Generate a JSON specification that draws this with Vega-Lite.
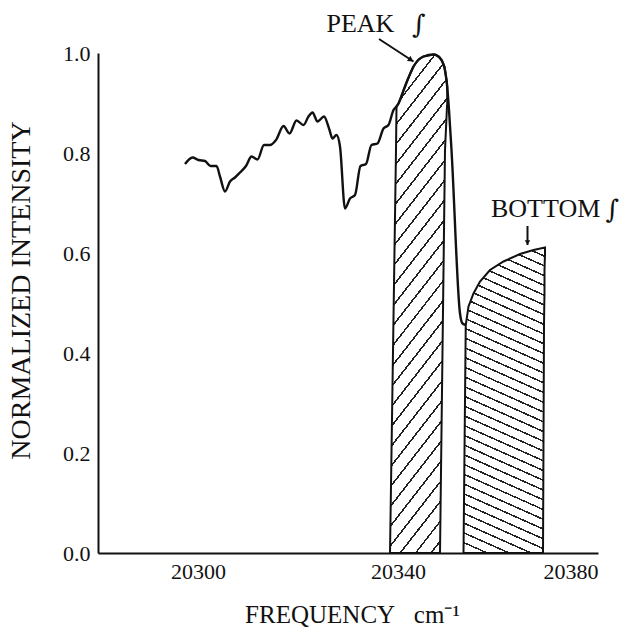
{
"$schema": "https://vega.github.io/schema/vega-lite/v6.json",
"width": 500, "height": 500,
"autosize": {"type": "none"},
"padding": {"left": 98, "top": 53, "right": 29, "bottom": 84},
"background": "white",
"config": {
 "view": {"stroke": null},
 "font": "Liberation Serif",
 "axisX": {"grid": false, "ticks": false, "domainColor": "#111", "domainWidth": 2, "labelFont": "Liberation Serif", "labelFontSize": 22, "labelColor": "#111", "labelPadding": 8, "titleFont": "Liberation Serif", "titleFontSize": 25, "titleFontWeight": "normal", "titleColor": "#111", "titleX": 254, "titleY": 61, "titleBaseline": "middle", "titleAlign": "center"},
 "axisY": {"grid": false, "ticks": false, "domainColor": "#111", "domainWidth": 2, "labelFont": "Liberation Serif", "labelFontSize": 22, "labelColor": "#111", "labelPadding": 8, "titleFont": "Liberation Serif", "titleFontSize": 28, "titleFontWeight": "normal", "titleColor": "#111", "titleX": -77, "titleY": 237, "titleAngle": -90, "titleBaseline": "middle", "titleAlign": "center"}
},
"datasets": {
 "curve": [
  {"x":20297.4,"y":0.778},{"x":20298.9,"y":0.791},{"x":20300.1,"y":0.786},{"x":20301.4,"y":0.784},{"x":20302.5,"y":0.774},{"x":20303.7,"y":0.774},{"x":20304.4,"y":0.753},{"x":20305.4,"y":0.723},{"x":20306.4,"y":0.743},{"x":20307.4,"y":0.751},{"x":20308.4,"y":0.761},{"x":20309.6,"y":0.774},{"x":20310.7,"y":0.793},{"x":20311.9,"y":0.787},{"x":20313.2,"y":0.816},{"x":20314.4,"y":0.816},{"x":20315.6,"y":0.826},{"x":20317.1,"y":0.854},{"x":20318.3,"y":0.839},{"x":20319.7,"y":0.865},{"x":20321.1,"y":0.856},{"x":20322.1,"y":0.873},{"x":20322.9,"y":0.881},{"x":20323.9,"y":0.863},{"x":20325.2,"y":0.873},{"x":20326.3,"y":0.846},{"x":20326.9,"y":0.829},{"x":20327.7,"y":0.836},{"x":20328.4,"y":0.813},{"x":20329.4,"y":0.689},{"x":20330.4,"y":0.709},{"x":20331.4,"y":0.716},{"x":20332.5,"y":0.774},{"x":20333.6,"y":0.778},{"x":20334.7,"y":0.816},{"x":20335.9,"y":0.819},{"x":20337.1,"y":0.849},{"x":20338.1,"y":0.856},{"x":20339.1,"y":0.886},{"x":20339.7,"y":0.893},{"x":20340.1,"y":0.899},{"x":20341.4,"y":0.933},{"x":20343.1,"y":0.973},{"x":20345.1,"y":0.993},{"x":20347.1,"y":0.997},{"x":20348.7,"y":0.986},{"x":20349.7,"y":0.946},{"x":20350.2,"y":0.886},{"x":20350.7,"y":0.806},{"x":20352.4,"y":0.479},{"x":20352.9,"y":0.459},{"x":20353.6,"y":0.456}
 ],
 "peak": [
  {"y":0,"xl":20338.4,"xr":20348.4},{"y":0.806,"xl":20339.6,"xr":20349.4},{"y":0.893,"xl":20339.7,"xr":20349.8},{"y":0.899,"xl":20340.1,"xr":20349.85},{"y":0.933,"xl":20341.4,"xr":20349.85},{"y":0.946,"xl":20341.9,"xr":20349.7},{"y":0.973,"xl":20343.1,"xr":20349.3},{"y":0.986,"xl":20344.0,"xr":20348.7},{"y":0.993,"xl":20345.1,"xr":20348.2},{"y":0.997,"xl":20347.1,"xr":20347.3}
 ],
 "bottom": [
  {"y":0,"xl":20353.1,"xr":20369.0},{"y":0.456,"xl":20353.55,"xr":20369.2},{"y":0.493,"xl":20354.1,"xr":20369.25},{"y":0.519,"xl":20355.1,"xr":20369.3},{"y":0.543,"xl":20356.4,"xr":20369.3},{"y":0.566,"xl":20358.4,"xr":20369.3},{"y":0.583,"xl":20361.1,"xr":20369.35},{"y":0.598,"xl":20364.4,"xr":20369.4},{"y":0.606,"xl":20367.1,"xr":20369.4},{"y":0.611,"xl":20369.4,"xr":20369.4}
 ],
 "labels": [
  {"label":"PEAK","x":20325.7,"y":1.058},{"label":"BOTTOM","x":20358.6,"y":0.688}
 ],
 "integrals": [
  {"label":"∫","x":20342.8,"y":1.056},{"label":"∫","x":20381.5,"y":0.686}
 ],
 "arrows": [
  {"x":20336.2,"y":1.028,"x2":20343.1,"y2":0.983},{"x":20365.9,"y":0.654,"x2":20365.9,"y2":0.616}
 ],
 "head1": [{"x":20342.6,"y":0.986}],
 "head2": [{"x":20365.9,"y":0.621}]
},
"layer": [
 {"data": {"name": "peak"},
  "mark": {"type": "area", "orient": "horizontal", "stroke": "#111", "strokeWidth": 2,
   "fill": {"gradient": "linear", "x1": 0, "y1": 0, "x2": 0.1657, "y2": 1.1231, "stops": [
    {"offset":0,"color":"#fff"},{"offset":0.03,"color":"#fff"},{"offset":0.03,"color":"#222"},{"offset":0.0345,"color":"#222"},
    {"offset":0.0345,"color":"#fff"},{"offset":0.0645,"color":"#fff"},{"offset":0.0645,"color":"#222"},{"offset":0.069,"color":"#222"},
    {"offset":0.069,"color":"#fff"},{"offset":0.099,"color":"#fff"},{"offset":0.099,"color":"#222"},{"offset":0.1034,"color":"#222"},
    {"offset":0.1034,"color":"#fff"},{"offset":0.1334,"color":"#fff"},{"offset":0.1334,"color":"#222"},{"offset":0.1379,"color":"#222"},
    {"offset":0.1379,"color":"#fff"},{"offset":0.1679,"color":"#fff"},{"offset":0.1679,"color":"#222"},{"offset":0.1724,"color":"#222"},
    {"offset":0.1724,"color":"#fff"},{"offset":0.2024,"color":"#fff"},{"offset":0.2024,"color":"#222"},{"offset":0.2069,"color":"#222"},
    {"offset":0.2069,"color":"#fff"},{"offset":0.2369,"color":"#fff"},{"offset":0.2369,"color":"#222"},{"offset":0.2414,"color":"#222"},
    {"offset":0.2414,"color":"#fff"},{"offset":0.2714,"color":"#fff"},{"offset":0.2714,"color":"#222"},{"offset":0.2759,"color":"#222"},
    {"offset":0.2759,"color":"#fff"},{"offset":0.3059,"color":"#fff"},{"offset":0.3059,"color":"#222"},{"offset":0.3103,"color":"#222"},
    {"offset":0.3103,"color":"#fff"},{"offset":0.3403,"color":"#fff"},{"offset":0.3403,"color":"#222"},{"offset":0.3448,"color":"#222"},
    {"offset":0.3448,"color":"#fff"},{"offset":0.3748,"color":"#fff"},{"offset":0.3748,"color":"#222"},{"offset":0.3793,"color":"#222"},
    {"offset":0.3793,"color":"#fff"},{"offset":0.4093,"color":"#fff"},{"offset":0.4093,"color":"#222"},{"offset":0.4138,"color":"#222"},
    {"offset":0.4138,"color":"#fff"},{"offset":0.4438,"color":"#fff"},{"offset":0.4438,"color":"#222"},{"offset":0.4483,"color":"#222"},
    {"offset":0.4483,"color":"#fff"},{"offset":0.4783,"color":"#fff"},{"offset":0.4783,"color":"#222"},{"offset":0.4828,"color":"#222"},
    {"offset":0.4828,"color":"#fff"},{"offset":0.5128,"color":"#fff"},{"offset":0.5128,"color":"#222"},{"offset":0.5172,"color":"#222"},
    {"offset":0.5172,"color":"#fff"},{"offset":0.5472,"color":"#fff"},{"offset":0.5472,"color":"#222"},{"offset":0.5517,"color":"#222"},
    {"offset":0.5517,"color":"#fff"},{"offset":0.5817,"color":"#fff"},{"offset":0.5817,"color":"#222"},{"offset":0.5862,"color":"#222"},
    {"offset":0.5862,"color":"#fff"},{"offset":0.6162,"color":"#fff"},{"offset":0.6162,"color":"#222"},{"offset":0.6207,"color":"#222"},
    {"offset":0.6207,"color":"#fff"},{"offset":0.6507,"color":"#fff"},{"offset":0.6507,"color":"#222"},{"offset":0.6552,"color":"#222"},
    {"offset":0.6552,"color":"#fff"},{"offset":0.6852,"color":"#fff"},{"offset":0.6852,"color":"#222"},{"offset":0.6897,"color":"#222"},
    {"offset":0.6897,"color":"#fff"},{"offset":0.7197,"color":"#fff"},{"offset":0.7197,"color":"#222"},{"offset":0.7241,"color":"#222"},
    {"offset":0.7241,"color":"#fff"},{"offset":0.7541,"color":"#fff"},{"offset":0.7541,"color":"#222"},{"offset":0.7586,"color":"#222"},
    {"offset":0.7586,"color":"#fff"},{"offset":0.7886,"color":"#fff"},{"offset":0.7886,"color":"#222"},{"offset":0.7931,"color":"#222"},
    {"offset":0.7931,"color":"#fff"},{"offset":0.8231,"color":"#fff"},{"offset":0.8231,"color":"#222"},{"offset":0.8276,"color":"#222"},
    {"offset":0.8276,"color":"#fff"},{"offset":0.8576,"color":"#fff"},{"offset":0.8576,"color":"#222"},{"offset":0.8621,"color":"#222"},
    {"offset":0.8621,"color":"#fff"},{"offset":0.8921,"color":"#fff"},{"offset":0.8921,"color":"#222"},{"offset":0.8966,"color":"#222"},
    {"offset":0.8966,"color":"#fff"},{"offset":0.9266,"color":"#fff"},{"offset":0.9266,"color":"#222"},{"offset":0.931,"color":"#222"},
    {"offset":0.931,"color":"#fff"},{"offset":0.961,"color":"#fff"},{"offset":0.961,"color":"#222"},{"offset":0.9655,"color":"#222"},
    {"offset":0.9655,"color":"#fff"},{"offset":0.9955,"color":"#fff"},{"offset":0.9955,"color":"#222"},{"offset":1,"color":"#222"}
   ]}},
  "encoding": {
   "y": {"field": "y", "type": "quantitative", "scale": {"domain": [0, 1], "nice": false, "zero": false}, "title": "NORMALIZED INTENSITY", "axis": {"values": [0, 0.2, 0.4, 0.6, 0.8, 1], "format": ".1f"}},
   "x": {"field": "xl", "type": "quantitative", "scale": {"domain": [20280, 20380], "nice": false, "zero": false}, "title": "FREQUENCY\u00a0\u00a0\u00a0cm⁻¹", "axis": {"values": [20300, 20340, 20380], "format": "d"}},
   "x2": {"field": "xr"}
  }
 },
 {"data": {"name": "bottom"},
  "mark": {"type": "area", "orient": "horizontal", "stroke": "#111", "strokeWidth": 2,
   "fill": {"gradient": "linear", "x1": 1, "y1": 0, "x2": 0.869, "y2": 1.1033, "stops": [
    {"offset":0,"color":"#fff"},{"offset":0.0237,"color":"#fff"},{"offset":0.0237,"color":"#222"},{"offset":0.0286,"color":"#222"},
    {"offset":0.0286,"color":"#fff"},{"offset":0.0523,"color":"#fff"},{"offset":0.0523,"color":"#222"},{"offset":0.0571,"color":"#222"},
    {"offset":0.0571,"color":"#fff"},{"offset":0.0808,"color":"#fff"},{"offset":0.0808,"color":"#222"},{"offset":0.0857,"color":"#222"},
    {"offset":0.0857,"color":"#fff"},{"offset":0.1094,"color":"#fff"},{"offset":0.1094,"color":"#222"},{"offset":0.1143,"color":"#222"},
    {"offset":0.1143,"color":"#fff"},{"offset":0.138,"color":"#fff"},{"offset":0.138,"color":"#222"},{"offset":0.1429,"color":"#222"},
    {"offset":0.1429,"color":"#fff"},{"offset":0.1666,"color":"#fff"},{"offset":0.1666,"color":"#222"},{"offset":0.1714,"color":"#222"},
    {"offset":0.1714,"color":"#fff"},{"offset":0.1951,"color":"#fff"},{"offset":0.1951,"color":"#222"},{"offset":0.2,"color":"#222"},
    {"offset":0.2,"color":"#fff"},{"offset":0.2237,"color":"#fff"},{"offset":0.2237,"color":"#222"},{"offset":0.2286,"color":"#222"},
    {"offset":0.2286,"color":"#fff"},{"offset":0.2523,"color":"#fff"},{"offset":0.2523,"color":"#222"},{"offset":0.2571,"color":"#222"},
    {"offset":0.2571,"color":"#fff"},{"offset":0.2808,"color":"#fff"},{"offset":0.2808,"color":"#222"},{"offset":0.2857,"color":"#222"},
    {"offset":0.2857,"color":"#fff"},{"offset":0.3094,"color":"#fff"},{"offset":0.3094,"color":"#222"},{"offset":0.3143,"color":"#222"},
    {"offset":0.3143,"color":"#fff"},{"offset":0.338,"color":"#fff"},{"offset":0.338,"color":"#222"},{"offset":0.3429,"color":"#222"},
    {"offset":0.3429,"color":"#fff"},{"offset":0.3666,"color":"#fff"},{"offset":0.3666,"color":"#222"},{"offset":0.3714,"color":"#222"},
    {"offset":0.3714,"color":"#fff"},{"offset":0.3951,"color":"#fff"},{"offset":0.3951,"color":"#222"},{"offset":0.4,"color":"#222"},
    {"offset":0.4,"color":"#fff"},{"offset":0.4237,"color":"#fff"},{"offset":0.4237,"color":"#222"},{"offset":0.4286,"color":"#222"},
    {"offset":0.4286,"color":"#fff"},{"offset":0.4523,"color":"#fff"},{"offset":0.4523,"color":"#222"},{"offset":0.4571,"color":"#222"},
    {"offset":0.4571,"color":"#fff"},{"offset":0.4808,"color":"#fff"},{"offset":0.4808,"color":"#222"},{"offset":0.4857,"color":"#222"},
    {"offset":0.4857,"color":"#fff"},{"offset":0.5094,"color":"#fff"},{"offset":0.5094,"color":"#222"},{"offset":0.5143,"color":"#222"},
    {"offset":0.5143,"color":"#fff"},{"offset":0.538,"color":"#fff"},{"offset":0.538,"color":"#222"},{"offset":0.5429,"color":"#222"},
    {"offset":0.5429,"color":"#fff"},{"offset":0.5666,"color":"#fff"},{"offset":0.5666,"color":"#222"},{"offset":0.5714,"color":"#222"},
    {"offset":0.5714,"color":"#fff"},{"offset":0.5951,"color":"#fff"},{"offset":0.5951,"color":"#222"},{"offset":0.6,"color":"#222"},
    {"offset":0.6,"color":"#fff"},{"offset":0.6237,"color":"#fff"},{"offset":0.6237,"color":"#222"},{"offset":0.6286,"color":"#222"},
    {"offset":0.6286,"color":"#fff"},{"offset":0.6523,"color":"#fff"},{"offset":0.6523,"color":"#222"},{"offset":0.6571,"color":"#222"},
    {"offset":0.6571,"color":"#fff"},{"offset":0.6808,"color":"#fff"},{"offset":0.6808,"color":"#222"},{"offset":0.6857,"color":"#222"},
    {"offset":0.6857,"color":"#fff"},{"offset":0.7094,"color":"#fff"},{"offset":0.7094,"color":"#222"},{"offset":0.7143,"color":"#222"},
    {"offset":0.7143,"color":"#fff"},{"offset":0.738,"color":"#fff"},{"offset":0.738,"color":"#222"},{"offset":0.7429,"color":"#222"},
    {"offset":0.7429,"color":"#fff"},{"offset":0.7666,"color":"#fff"},{"offset":0.7666,"color":"#222"},{"offset":0.7714,"color":"#222"},
    {"offset":0.7714,"color":"#fff"},{"offset":0.7951,"color":"#fff"},{"offset":0.7951,"color":"#222"},{"offset":0.8,"color":"#222"},
    {"offset":0.8,"color":"#fff"},{"offset":0.8237,"color":"#fff"},{"offset":0.8237,"color":"#222"},{"offset":0.8286,"color":"#222"},
    {"offset":0.8286,"color":"#fff"},{"offset":0.8523,"color":"#fff"},{"offset":0.8523,"color":"#222"},{"offset":0.8571,"color":"#222"},
    {"offset":0.8571,"color":"#fff"},{"offset":0.8808,"color":"#fff"},{"offset":0.8808,"color":"#222"},{"offset":0.8857,"color":"#222"},
    {"offset":0.8857,"color":"#fff"},{"offset":0.9094,"color":"#fff"},{"offset":0.9094,"color":"#222"},{"offset":0.9143,"color":"#222"},
    {"offset":0.9143,"color":"#fff"},{"offset":0.938,"color":"#fff"},{"offset":0.938,"color":"#222"},{"offset":0.9429,"color":"#222"},
    {"offset":0.9429,"color":"#fff"},{"offset":0.9666,"color":"#fff"},{"offset":0.9666,"color":"#222"},{"offset":0.9714,"color":"#222"},
    {"offset":0.9714,"color":"#fff"},{"offset":0.9951,"color":"#fff"},{"offset":0.9951,"color":"#222"},{"offset":1,"color":"#222"}
   ]}},
  "encoding": {
   "y": {"field": "y", "type": "quantitative", "title": "NORMALIZED INTENSITY"},
   "x": {"field": "xl", "type": "quantitative", "title": "FREQUENCY\u00a0\u00a0\u00a0cm⁻¹"},
   "x2": {"field": "xr"}
  }
 },
 {"data": {"name": "curve"},
  "mark": {"type": "line", "color": "#111", "strokeWidth": 2.4, "interpolate": "monotone"},
  "encoding": {
   "x": {"field": "x", "type": "quantitative", "title": "FREQUENCY\u00a0\u00a0\u00a0cm⁻¹"},
   "y": {"field": "y", "type": "quantitative", "title": "NORMALIZED INTENSITY"}
  }
 },
 {"data": {"name": "arrows"},
  "mark": {"type": "rule", "color": "#111", "strokeWidth": 2},
  "encoding": {
   "x": {"field": "x", "type": "quantitative", "title": "FREQUENCY\u00a0\u00a0\u00a0cm⁻¹"},
   "y": {"field": "y", "type": "quantitative", "title": "NORMALIZED INTENSITY"},
   "x2": {"field": "x2"},
   "y2": {"field": "y2"}
  }
 },
 {"data": {"name": "head1"},
  "mark": {"type": "point", "shape": "triangle-right", "angle": 33.5, "filled": true, "color": "#111", "size": 40, "opacity": 1},
  "encoding": {
   "x": {"field": "x", "type": "quantitative", "title": "FREQUENCY\u00a0\u00a0\u00a0cm⁻¹"},
   "y": {"field": "y", "type": "quantitative", "title": "NORMALIZED INTENSITY"}
  }
 },
 {"data": {"name": "head2"},
  "mark": {"type": "point", "shape": "triangle-down", "filled": true, "color": "#111", "size": 30, "opacity": 1},
  "encoding": {
   "x": {"field": "x", "type": "quantitative", "title": "FREQUENCY\u00a0\u00a0\u00a0cm⁻¹"},
   "y": {"field": "y", "type": "quantitative", "title": "NORMALIZED INTENSITY"}
  }
 },
 {"data": {"name": "labels"},
  "mark": {"type": "text", "align": "left", "baseline": "middle", "font": "Liberation Serif", "fontSize": 26, "color": "#111"},
  "encoding": {
   "x": {"field": "x", "type": "quantitative", "title": "FREQUENCY\u00a0\u00a0\u00a0cm⁻¹"},
   "y": {"field": "y", "type": "quantitative", "title": "NORMALIZED INTENSITY"},
   "text": {"field": "label"}
  }
 },
 {"data": {"name": "integrals"},
  "mark": {"type": "text", "align": "left", "baseline": "middle", "font": "DejaVu Serif", "fontSize": 26, "color": "#111"},
  "encoding": {
   "x": {"field": "x", "type": "quantitative", "title": "FREQUENCY\u00a0\u00a0\u00a0cm⁻¹"},
   "y": {"field": "y", "type": "quantitative", "title": "NORMALIZED INTENSITY"},
   "text": {"field": "label"}
  }
 }
]
}
